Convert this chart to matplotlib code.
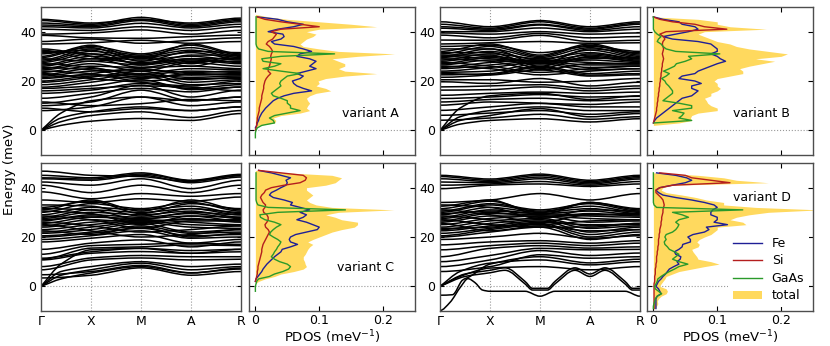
import numpy as np
import matplotlib
matplotlib.use("Agg")
import matplotlib.pyplot as plt
from matplotlib.path import Path
from matplotlib.patches import PathPatch, Patch

# k-path
kpts = [0, 1, 2, 3, 4]
klabels = ['Γ', 'X', 'M', 'A', 'R']
kfine = [0, 0.4, 1, 2, 3, 4]   # acoustic branches get one extra point near Γ

# ---- band energies (meV) at Γ, X, M, A, R ----
bands_A = [
    [8.0, 9.5, 13.5, 10.0, 11.5], [10.0, 11.5, 16.3, 12.0, 13.5], [11.0, 13.5, 18.3, 13.5, 16.3],
    [13.0, 15.0, 17.0, 15.6, 17.6], [15.0, 16.3, 19.0, 17.0, 18.5], [9.0, 7.5, 8.8, 8.0, 9.5],
    [11.5, 10.0, 10.8, 12.5, 12.0], [16.0, 17.0, 18.0, 17.5, 16.0],
    [17.0, 18.0, 20.5, 16.5, 17.5], [17.5, 19.5, 22.0, 18.5, 19.0], [18.5, 20.5, 23.0, 19.5, 20.5],
    [19.5, 21.5, 24.0, 20.5, 21.5], [20.0, 22.0, 22.5, 21.5, 22.0], [21.0, 23.0, 25.0, 22.5, 23.0],
    [22.0, 24.0, 24.5, 23.5, 24.0], [22.5, 25.0, 23.0, 25.0, 24.5], [23.5, 26.0, 25.5, 26.0, 25.0],
    [24.5, 27.0, 24.0, 27.5, 26.0], [25.0, 28.0, 26.5, 28.5, 27.0], [26.0, 29.0, 27.5, 29.0, 27.5],
    [26.5, 30.0, 28.5, 30.0, 28.5], [27.5, 31.0, 29.5, 31.5, 29.0], [28.0, 32.0, 30.0, 32.5, 29.5],
    [28.5, 33.0, 30.5, 33.5, 30.0], [29.5, 34.0, 31.0, 34.5, 30.5], [30.0, 34.5, 29.0, 35.0, 31.0],
    [31.0, 33.5, 28.0, 32.0, 31.5], [31.5, 32.5, 26.5, 30.5, 30.5], [32.0, 31.0, 27.0, 29.0, 29.0],
    [33.0, 30.0, 25.5, 28.0, 28.0], [27.0, 25.5, 22.5, 24.0, 23.5], [25.5, 24.5, 21.5, 22.5, 22.5],
    [24.0, 23.0, 20.0, 21.0, 21.0], [23.0, 21.0, 19.5, 18.0, 20.0], [21.5, 22.5, 21.0, 23.0, 22.5],
    [29.0, 28.0, 30.0, 27.0, 30.5], [32.5, 29.0, 29.5, 26.0, 29.5],
    [35.0, 35.5, 36.5, 35.3, 36.0], [36.0, 37.0, 35.3, 36.5, 37.5], [38.5, 37.5, 37.3, 38.0, 38.6],
    [39.0, 39.5, 40.7, 39.0, 40.5], [41.0, 40.5, 42.0, 40.5, 42.0], [42.0, 41.5, 43.4, 41.5, 43.0],
    [42.7, 42.0, 44.5, 42.0, 44.0], [43.5, 42.5, 45.0, 42.5, 44.5], [44.5, 43.0, 45.8, 43.0, 45.0],
    [45.0, 43.5, 45.0, 43.5, 45.5],
]
acoustic_A = [
    [0, 2.0, 3.7, 4.8, 4.0, 6.8], [0, 3.5, 6.0, 7.5, 5.2, 8.0],
    [0, 5.0, 7.5, 9.5, 8.0, 9.5], [0, 7.0, 12.0, 13.5, 12.0, 13.5],
]

bands_B = [
    [4.1, 5.0, 6.5, 4.5, 5.5], [6.1, 7.0, 8.0, 6.5, 7.5], [8.1, 9.5, 10.9, 9.5, 9.5],
    [10.2, 11.5, 11.0, 10.5, 11.5], [11.5, 12.5, 13.0, 12.0, 12.5], [12.9, 13.5, 14.5, 13.5, 13.8],
    [14.2, 15.0, 15.5, 15.0, 15.5], [16.3, 16.5, 17.6, 16.0, 17.0], [17.6, 18.0, 18.5, 17.0, 18.0],
    [19.7, 19.0, 21.0, 18.0, 19.5], [20.5, 20.5, 19.5, 20.0, 21.0],
    [21.5, 22.5, 25.5, 22.4, 23.0], [22.5, 23.0, 26.0, 23.0, 24.0], [23.5, 24.0, 27.0, 24.5, 25.0],
    [24.0, 25.5, 27.5, 25.5, 26.0], [25.0, 26.5, 28.0, 26.5, 26.5], [25.5, 27.5, 28.5, 27.5, 27.0],
    [26.5, 28.5, 27.0, 28.5, 27.5], [27.0, 29.5, 27.5, 29.5, 28.0], [28.0, 30.0, 28.0, 30.5, 28.5],
    [28.5, 31.0, 29.0, 31.5, 29.0], [29.5, 32.0, 28.5, 32.5, 29.5], [30.0, 33.0, 29.5, 33.5, 30.0],
    [31.0, 34.0, 30.0, 34.5, 30.5], [32.0, 35.0, 30.5, 35.0, 31.0], [33.0, 33.0, 27.0, 33.0, 31.5],
    [31.5, 31.5, 26.0, 31.0, 29.0], [30.5, 30.5, 25.0, 30.0, 28.0], [29.0, 28.0, 24.5, 27.0, 27.0],
    [27.5, 26.0, 23.5, 25.0, 26.0], [26.0, 25.0, 22.5, 24.0, 25.0], [23.0, 22.5, 24.5, 22.0, 22.5],
    [30.0, 29.0, 28.0, 29.0, 29.5], [34.0, 34.5, 31.5, 34.0, 32.0],
    [35.0, 35.5, 36.0, 35.3, 35.5], [36.6, 36.5, 38.5, 36.0, 36.5], [38.6, 37.5, 39.3, 37.5, 38.0],
    [39.5, 39.0, 40.0, 39.0, 39.5], [40.0, 40.0, 41.5, 40.0, 41.0], [41.4, 40.5, 42.7, 40.5, 42.0],
    [42.0, 41.0, 43.0, 41.0, 43.0], [43.0, 41.4, 44.0, 41.4, 43.5], [44.0, 42.0, 44.5, 42.0, 44.0],
]
acoustic_B = [
    [0, 2.5, 4.0, 4.7, 3.4, 4.7], [0, 4.0, 6.0, 8.8, 5.5, 6.8],
    [0, 5.5, 8.0, 9.5, 8.0, 8.0], [0, 9.0, 14.0, 15.0, 12.5, 14.0],
]

bands_C = [
    [3.4, 4.5, 7.5, 4.5, 6.0], [4.7, 6.0, 8.5, 5.5, 7.0], [6.7, 10.7, 11.5, 10.7, 11.0],
    [8.0, 11.5, 12.5, 12.0, 12.0], [10.7, 13.4, 14.1, 13.4, 14.0], [11.4, 14.0, 15.4, 14.5, 15.0],
    [11.0, 15.5, 16.0, 16.8, 16.5], [13.0, 16.5, 17.0, 17.5, 17.0], [15.0, 17.5, 18.8, 16.0, 18.0],
    [18.0, 19.5, 21.0, 17.5, 19.0], [19.0, 20.5, 22.5, 19.5, 20.0], [20.0, 21.5, 23.5, 20.5, 21.0],
    [20.5, 22.0, 24.5, 21.5, 22.0], [21.5, 23.0, 25.5, 22.0, 23.0], [22.0, 24.0, 26.0, 24.0, 23.5],
    [23.0, 25.0, 26.5, 25.0, 24.5], [24.0, 26.0, 27.0, 26.0, 25.0], [24.5, 27.0, 26.0, 27.5, 26.0],
    [25.5, 28.0, 27.5, 28.5, 26.5], [26.5, 29.0, 28.0, 29.5, 27.5], [27.5, 30.0, 29.0, 30.5, 28.0],
    [28.0, 31.0, 30.0, 31.5, 29.0], [29.0, 32.0, 31.0, 32.5, 29.5], [30.0, 33.5, 31.5, 34.0, 30.5],
    [31.0, 35.0, 30.5, 35.0, 31.0], [32.0, 34.5, 29.5, 33.5, 31.5], [33.0, 32.5, 28.5, 31.5, 30.0],
    [30.5, 29.5, 25.0, 28.5, 28.0], [28.5, 27.0, 23.5, 26.5, 26.5], [26.0, 24.5, 22.0, 23.0, 24.5],
    [25.0, 22.5, 20.0, 21.0, 23.0], [27.0, 28.5, 26.5, 27.0, 27.0], [22.5, 21.0, 24.0, 20.0, 21.5],
    [31.5, 31.0, 27.0, 30.0, 29.0],
    [35.0, 34.0, 35.5, 34.5, 36.2], [38.3, 35.5, 37.6, 36.5, 37.6], [41.0, 38.0, 41.0, 38.0, 41.0],
    [42.3, 41.0, 43.6, 39.6, 43.0], [43.6, 43.0, 45.0, 42.0, 44.3], [45.0, 44.0, 46.0, 43.0, 45.4],
    [46.7, 45.0, 44.5, 42.5, 45.0], [44.0, 43.5, 45.5, 42.8, 44.8],
]
acoustic_C = [
    [0, 3.0, 5.4, 8.0, 5.4, 7.4], [0, 4.5, 6.7, 9.4, 6.7, 8.0],
    [0, 6.0, 8.0, 10.0, 8.0, 9.0], [0, 9.0, 14.8, 15.4, 13.4, 15.0],
]

bands_D = [
    [6.0, 8.0, 12.8, 11.4, 12.0], [8.0, 10.7, 14.5, 12.5, 13.5], [10.0, 12.5, 15.4, 14.8, 15.0],
    [12.0, 15.4, 16.5, 15.5, 16.0], [14.8, 16.5, 17.5, 16.5, 17.5], [16.8, 18.0, 18.5, 17.5, 18.5],
    [20.0, 22.0, 24.0, 19.0, 21.0], [20.5, 23.0, 25.0, 20.0, 22.0], [21.5, 23.5, 25.5, 21.0, 23.0],
    [22.5, 24.5, 26.5, 22.0, 24.0], [23.0, 25.5, 27.0, 23.5, 24.5], [24.0, 26.5, 27.5, 24.5, 25.5],
    [25.0, 27.5, 28.5, 26.0, 26.5], [26.0, 28.5, 28.5, 27.5, 27.0], [26.5, 29.5, 29.0, 28.5, 28.0],
    [27.5, 30.0, 28.0, 29.5, 28.5], [28.0, 31.0, 29.5, 30.5, 29.0], [29.0, 32.0, 30.0, 31.5, 29.5],
    [30.0, 33.0, 30.5, 32.5, 30.0], [30.5, 33.5, 31.0, 33.5, 30.5], [31.5, 34.5, 30.0, 34.0, 31.0],
    [32.5, 35.0, 29.0, 34.0, 31.5], [33.0, 32.0, 27.5, 31.0, 30.5], [31.0, 29.0, 26.0, 29.0, 29.0],
    [28.5, 27.0, 25.0, 26.5, 27.0], [27.0, 25.0, 24.0, 24.0, 25.5], [25.5, 22.5, 24.5, 22.5, 23.0],
    [23.5, 24.0, 26.0, 25.0, 25.0], [29.5, 30.5, 29.5, 29.0, 29.5], [19.0, 20.0, 21.5, 19.5, 20.5],
    [34.0, 35.0, 37.6, 35.0, 37.6], [39.6, 41.0, 41.5, 40.5, 41.5], [41.0, 41.5, 42.5, 41.0, 42.5],
    [42.3, 42.0, 43.6, 41.5, 43.5], [43.6, 42.5, 44.3, 42.0, 44.0], [44.5, 43.0, 45.0, 42.5, 44.5],
    [45.0, 43.5, 45.5, 43.0, 45.0],
]
acoustic_D = [
    [0, 4.0, 7.4, 8.0, 6.7, 8.0], [0, 6.0, 9.4, 10.7, 8.7, 10.0],
]
# soft (negative) modes of variant D, each on its own k points
soft_k_D = [
    [0, 0.2, 0.42, 0.56, 0.7, 0.85, 1.0, 1.7, 2.0, 2.3, 3.0, 3.7, 4.0],
    [0, 0.25, 0.45, 0.6, 1.0, 2.0, 3.0, 4.0],
    [0, 0.5, 1.0, 1.3, 1.7, 1.85, 2.15, 2.3, 2.7, 3.0, 3.3, 3.7, 3.85, 4.0],
    [0, 0.5, 1.0, 1.3, 1.7, 1.85, 2.15, 2.3, 2.7, 3.0, 3.3, 3.7, 3.85, 4.0],
]
soft_E_D = [
    [-9.8, -6.5, 0.0, 3.1, 1.5, -1.5, -2.0, -2.0, -4.0, -2.0, -2.0, -2.0, -4.0],
    [-3.6, -3.4, 2.5, 4.0, 9.0, 12.0, 9.5, 11.0],
    [0.0, 5.0, 6.5, 7.5, 2.0, -0.8, -0.8, 2.0, 7.5, 5.0, 7.5, 2.0, -0.8, -0.8],
    [0.0, 4.0, 5.5, 6.5, 1.0, -1.5, -1.5, 1.0, 6.5, 4.0, 6.5, 1.0, -1.5, -1.5],
]

# ---- PDOS (1/meV) on 1 meV energy grids ----
nan = np.nan
E_A = list(range(-3, 48))
total_A = [0, 0, 0, 0, 0, 0.005, 0.03, 0.032, 0.028, 0.04, 0.07, 0.085, 0.08, 0.082, 0.085,
           0.082, 0.08, 0.085, 0.095, 0.118, 0.11, 0.095, 0.1, 0.098, 0.11, 0.14, 0.19, 0.14, 0.13, 0.14,
           0.14, 0.13, 0.12, 0.16, 0.218, 0.13, 0.1, 0.075, 0.07, 0.075, 0.08, 0.09, 0.095, 0.08, 0.1,
           0.19, 0.15, 0.1, 0.05, 0.02, 0]
fe_A = [nan, nan, nan, nan, 0.0, 0.002, 0.003, 0.005, 0.006, 0.008, 0.01, 0.013, 0.016, 0.02,
        0.024, 0.028, 0.035, 0.045, 0.06, 0.088, 0.075, 0.065, 0.06, 0.058, 0.07, 0.075, 0.065, 0.08,
        0.095, 0.085, 0.09, 0.095, 0.085, 0.065, 0.07, 0.088, 0.075, 0.06, 0.03, 0.025, 0.04, 0.045,
        0.043, 0.02, 0.035, 0.06, 0.075, 0.05, 0.035, 0.003, nan]
si_A = [nan, nan, nan, 0.0, 0.001, 0.002, 0.002, 0.003, 0.003, 0.004, 0.005, 0.006, 0.006, 0.007,
        0.008, 0.009, 0.01, 0.01, 0.011, 0.012, 0.013, 0.013, 0.014, 0.015, 0.017, 0.02, 0.024, 0.02,
        0.02, 0.022, 0.023, 0.024, 0.025, 0.024, 0.025, 0.027, 0.025, 0.022, 0.017, 0.02, 0.027, 0.03,
        0.033, 0.025, 0.04, 0.1, 0.07, 0.04, 0.015, 0.003, nan]
gaas_A = [0.0, 0.0, 0.0, 0.001, 0.003, 0.01, 0.03, 0.028, 0.022, 0.03, 0.05, 0.07, 0.055, 0.055,
          0.05, 0.05, 0.04, 0.028, 0.025, 0.03, 0.035, 0.04, 0.038, 0.04, 0.045, 0.05, 0.07, 0.04,
          0.012, 0.03, 0.04, 0.012, 0.01, 0.04, 0.124, 0.02, 0.005, 0.002, 0.001, 0.001, 0.001, 0.001,
          0.001, 0.001, 0.001, 0.001, 0.001, 0.001, 0.001, 0.001, nan]

E_B = list(range(0, 48))
total_B = [0, 0, 0, 0.04, 0.06, 0.058, 0.06, 0.07, 0.1, 0.1, 0.09, 0.085, 0.083, 0.08, 0.09,
           0.09, 0.1, 0.105, 0.1, 0.1, 0.095, 0.1, 0.12, 0.14, 0.14, 0.135, 0.15, 0.17, 0.19, 0.16,
           0.2, 0.21, 0.18, 0.15, 0.13, 0.12, 0.1, 0.09, 0.08, 0.07, 0.08, 0.177, 0.12, 0.1, 0.1,
           0.07, 0.0, 0.0]
fe_B = [nan, nan, nan, 0.0, 0.002, 0.005, 0.01, 0.015, 0.02, 0.025, 0.03, 0.035, 0.04, 0.045, 0.06,
        0.065, 0.07, 0.06, 0.06, 0.075, 0.065, 0.04, 0.045, 0.065, 0.07, 0.08, 0.09, 0.1, 0.113, 0.105,
        0.1, 0.09, 0.1, 0.1, 0.095, 0.09, 0.07, 0.03, 0.015, 0.035, 0.055, 0.07, 0.065, 0.045, 0.04,
        0.015, 0.0, nan]
si_B = [nan, nan, nan, 0.0, 0.001, 0.002, 0.003, 0.004, 0.005, 0.005, 0.006, 0.006, 0.007, 0.007,
        0.008, 0.008, 0.009, 0.009, 0.01, 0.01, 0.011, 0.011, 0.012, 0.012, 0.013, 0.013, 0.014, 0.014,
        0.015, 0.016, 0.015, 0.014, 0.015, 0.016, 0.015, 0.014, 0.015, 0.018, 0.016, 0.01, 0.02, 0.115,
        0.08, 0.065, 0.03, 0.01, 0.0, nan]
gaas_B = [nan, nan, nan, 0.001, 0.06, 0.04, 0.045, 0.048, 0.03, 0.06, 0.06, 0.04, 0.015, 0.02,
          0.025, 0.03, 0.03, 0.027, 0.024, 0.02, 0.018, 0.013, 0.02, 0.025, 0.016, 0.025, 0.033, 0.036,
          0.05, 0.06, 0.055, 0.104, 0.035, 0.02, 0.015, 0.012, 0.006, 0.008, 0.012, 0.006, 0.002, 0.0,
          0.0, 0.0, 0.0, 0.0, 0.0, nan]

E_C = list(range(-2, 48))
total_C = [0, 0, 0, 0.0, 0.005, 0.015, 0.03, 0.04, 0.06, 0.075, 0.08, 0.078, 0.077, 0.075, 0.075,
           0.078, 0.08, 0.082, 0.085, 0.09, 0.082, 0.09, 0.1, 0.11, 0.12, 0.135, 0.155, 0.16, 0.16,
           0.135, 0.125, 0.11, 0.13, 0.217, 0.12, 0.095, 0.085, 0.08, 0.085, 0.09, 0.085, 0.08, 0.08,
           0.11, 0.125, 0.13, 0.135, 0.12, 0.05, 0.0]
fe_C = [nan, nan, nan, nan, 0.0, 0.001, 0.004, 0.007, 0.01, 0.012, 0.015, 0.018, 0.022, 0.026,
        0.03, 0.035, 0.04, 0.042, 0.055, 0.066, 0.055, 0.053, 0.055, 0.063, 0.08, 0.097, 0.1, 0.09,
        0.08, 0.065, 0.075, 0.08, 0.07, 0.085, 0.07, 0.055, 0.058, 0.045, 0.028, 0.022, 0.025, 0.033,
        0.04, 0.048, 0.05, 0.048, 0.055, 0.04, 0.025, 0.005]
si_C = [nan, nan, nan, nan, 0.0, 0.001, 0.002, 0.003, 0.003, 0.004, 0.004, 0.005, 0.006, 0.007,
        0.008, 0.009, 0.01, 0.01, 0.011, 0.012, 0.014, 0.016, 0.018, 0.02, 0.022, 0.02, 0.016, 0.015,
        0.018, 0.02, 0.02, 0.018, 0.013, 0.012, 0.015, 0.016, 0.012, 0.01, 0.008, 0.01, 0.014, 0.016,
        0.025, 0.045, 0.07, 0.078, 0.08, 0.075, 0.04, 0.005]
gaas_C = [0.0, 0.0, 0.0, 0.001, 0.002, 0.005, 0.022, 0.03, 0.043, 0.052, 0.055, 0.05, 0.038, 0.03,
          0.025, 0.028, 0.03, 0.033, 0.035, 0.038, 0.04, 0.035, 0.028, 0.022, 0.024, 0.028, 0.033, 0.04,
          0.03, 0.015, 0.008, 0.007, 0.035, 0.141, 0.02, 0.004, 0.002, 0.001, 0.001, 0.001, 0.001, 0.001,
          0.001, 0.001, 0.001, 0.001, 0.001, 0.001, 0.001, nan]

E_D = list(range(-9, 47))
total_D = [0.003, 0.005, 0.007, 0.006, 0.008, 0.012, 0.02, 0.022, 0.02, 0.01, 0.012, 0.015, 0.018,
           0.02, 0.03, 0.04, 0.06, 0.08, 0.103, 0.09, 0.07, 0.068, 0.065, 0.062, 0.06, 0.07, 0.072,
           0.068, 0.072, 0.08, 0.09, 0.095, 0.1, 0.1, 0.145, 0.14, 0.12, 0.13, 0.15, 0.18, 0.26, 0.16,
           0.11, 0.11, 0.083, 0.067, 0.045, 0.02, 0.012, 0.015, 0.03, 0.18, 0.13, 0.11, 0.07, 0.005]
fe_D = [0.004, 0.004, 0.004, 0.004, 0.004, 0.006, 0.012, 0.01, 0.008, 0.004, 0.006, 0.008, 0.012,
        0.015, 0.019, 0.022, 0.025, 0.032, 0.04, 0.037, 0.042, 0.043, 0.035, 0.033, 0.04, 0.045, 0.046,
        0.058, 0.058, 0.054, 0.062, 0.08, 0.087, 0.083, 0.116, 0.095, 0.1, 0.1, 0.09, 0.09, 0.093, 0.1,
        0.095, 0.08, 0.06, 0.035, 0.015, 0.008, 0.004, 0.01, 0.03, 0.05, 0.06, 0.052, 0.035, 0.005]
si_D = [0.001, 0.001, 0.001, 0.001, 0.001, 0.001, 0.001, 0.001, 0.001, 0.001, 0.001, 0.002, 0.002,
        0.002, 0.003, 0.003, 0.003, 0.004, 0.004, 0.005, 0.005, 0.005, 0.006, 0.006, 0.007, 0.007,
        0.008, 0.008, 0.008, 0.009, 0.009, 0.01, 0.01, 0.011, 0.012, 0.012, 0.013, 0.013, 0.014, 0.015,
        0.015, 0.016, 0.017, 0.016, 0.015, 0.012, 0.008, 0.004, 0.004, 0.01, 0.03, 0.12, 0.09, 0.06,
        0.05, 0.01]
gaas_D = [0.0, 0.0, 0.001, 0.002, 0.003, 0.006, 0.013, 0.008, 0.003, 0.002, 0.004, 0.006, 0.007,
          0.012, 0.018, 0.025, 0.033, 0.04, 0.054, 0.04, 0.03, 0.035, 0.04, 0.033, 0.025, 0.022, 0.018,
          0.017, 0.02, 0.018, 0.02, 0.03, 0.035, 0.038, 0.04, 0.035, 0.04, 0.055, 0.045, 0.03, 0.14,
          0.005, 0.001, 0.0, 0.0, 0.0, 0.0, 0.0, 0.0, 0.0, 0.0, 0.0, 0.0, 0.0, 0.0, 0.0]

variants = ['A', 'B', 'C', 'D']
c_fe, c_si, c_gaas, c_tot = '#1f1f96', '#b41e1e', '#2a9a2a', '#ffd95e'


def band_path(k, e):
    # smooth curve through the read values: flat at extrema, monotone elsewhere
    k = np.asarray(k, float)
    e = np.asarray(e, float)
    n = len(k)
    m = np.zeros(n)
    for i in range(1, n - 1):
        d1 = (e[i] - e[i - 1]) / (k[i] - k[i - 1])
        d2 = (e[i + 1] - e[i]) / (k[i + 1] - k[i])
        if d1 * d2 > 0:
            m[i] = 2.0 / (1.0 / d1 + 1.0 / d2)
    if e[0] == 0:
        m[0] = (e[1] - e[0]) / (k[1] - k[0])
    verts = [(k[0], e[0])]
    codes = [Path.MOVETO]
    for i in range(n - 1):
        h = k[i + 1] - k[i]
        verts += [(k[i] + h / 3, e[i] + m[i] * h / 3),
                  (k[i + 1] - h / 3, e[i + 1] - m[i + 1] * h / 3),
                  (k[i + 1], e[i + 1])]
        codes += [Path.CURVE4] * 3
    return Path(verts, codes)


plt.rcParams['font.size'] = 9
fig = plt.figure(figsize=(8.3, 3.46), dpi=100)

W, H = 830.0, 346.0
rows = [(7, 155), (163, 311)]
cols = [(41, 241, 249, 415), (440, 640, 647, 813)]

all_bands = {'A': bands_A, 'B': bands_B, 'C': bands_C, 'D': bands_D}
all_acoustic = {'A': acoustic_A, 'B': acoustic_B, 'C': acoustic_C, 'D': acoustic_D}
all_pdos = {
    'A': (E_A, total_A, fe_A, si_A, gaas_A),
    'B': (E_B, total_B, fe_B, si_B, gaas_B),
    'C': (E_C, total_C, fe_C, si_C, gaas_C),
    'D': (E_D, total_D, fe_D, si_D, gaas_D),
}
label_pos = {'A': (0.18, 7), 'B': (0.17, 7), 'C': (0.172, 7.5), 'D': (0.17, 36)}
band_lw = 1.1

for idx, v in enumerate(variants):
    r, c = divmod(idx, 2)
    top, bot = rows[r]
    bl, br, pl, pr = cols[c]
    axb = fig.add_axes([bl / W, 1 - bot / H, (br - bl) / W, (bot - top) / H])
    axp = fig.add_axes([pl / W, 1 - bot / H, (pr - pl) / W, (bot - top) / H])

    # band structure
    for b in all_bands[v]:
        axb.add_patch(PathPatch(band_path(kpts, b), fill=False, color='k', lw=band_lw))
    for b in all_acoustic[v]:
        axb.add_patch(PathPatch(band_path(kfine, b), fill=False, color='k', lw=band_lw))
    if v == 'D':
        for kk, ee in zip(soft_k_D, soft_E_D):
            axb.add_patch(PathPatch(band_path(kk, ee), fill=False, color='k', lw=band_lw))
    for kx in kpts[1:-1]:
        axb.axvline(kx, color='0.6', ls=':', lw=0.8, zorder=0)
    axb.axhline(0, color='0.6', ls=':', lw=0.8, zorder=0)
    axb.set_xlim(0, 4)
    axb.set_ylim(-10, 50)
    axb.set_xticks(kpts)
    axb.set_yticks([0, 20, 40])
    axb.tick_params(direction='in', length=3, right=True, labelsize=9)
    axb.tick_params(axis='x', length=0, pad=3)
    if r == 1:
        axb.set_xticklabels(klabels)
    else:
        axb.set_xticklabels([])

    # PDOS
    E, tot, fe, si, ga = all_pdos[v]
    E = np.array(E, float)
    axp.fill_betweenx(E, 0, np.array(tot, float), color=c_tot, lw=0, zorder=1)
    axp.plot(np.array(fe, float), E, color=c_fe, lw=1.0, zorder=3)
    axp.plot(np.array(si, float), E, color=c_si, lw=1.0, zorder=3)
    axp.plot(np.array(ga, float), E, color=c_gaas, lw=1.0, zorder=3)
    axp.axhline(0, color='0.6', ls=':', lw=0.8, zorder=0)
    axp.set_xlim(-0.01, 0.25)
    axp.set_ylim(-10, 50)
    axp.set_xticks([0, 0.1, 0.2])
    axp.set_yticks([0, 20, 40])
    axp.set_yticklabels([])
    axp.tick_params(direction='in', length=3.5, top=True, right=True, labelsize=9, pad=2.5)
    if r == 1:
        axp.set_xticklabels(['0', '0.1', '0.2'])
        axp.set_xlabel('PDOS (meV$^{-1}$)', fontsize=9.5, labelpad=1)
    else:
        axp.set_xticklabels([])
    tx, ty = label_pos[v]
    axp.text(tx, ty, 'variant ' + v, ha='center', va='center', fontsize=9, zorder=5)

    for ax in (axb, axp):
        for s in ax.spines.values():
            s.set_color('0.3')
            s.set_linewidth(1.0)

    if v == 'D':
        handles = [plt.Line2D([], [], color=c_fe, lw=1.0), plt.Line2D([], [], color=c_si, lw=1.0),
                   plt.Line2D([], [], color=c_gaas, lw=1.0), Patch(facecolor=c_tot, edgecolor='none')]
        leg = axp.legend(handles, ['Fe', 'Si', 'GaAs', 'total'], loc='lower right', fontsize=9,
                         frameon=True, handlelength=2.3, borderaxespad=0.3, labelspacing=0.35)
        leg.get_frame().set_edgecolor('none')
        leg.get_frame().set_facecolor('white')
        leg.get_frame().set_alpha(1.0)
        leg.set_zorder(4)

fig.text(0.012, 0.51, 'Energy (meV)', rotation=90, va='center', ha='center', fontsize=9.5)

fig.savefig('out.png', dpi=100)
